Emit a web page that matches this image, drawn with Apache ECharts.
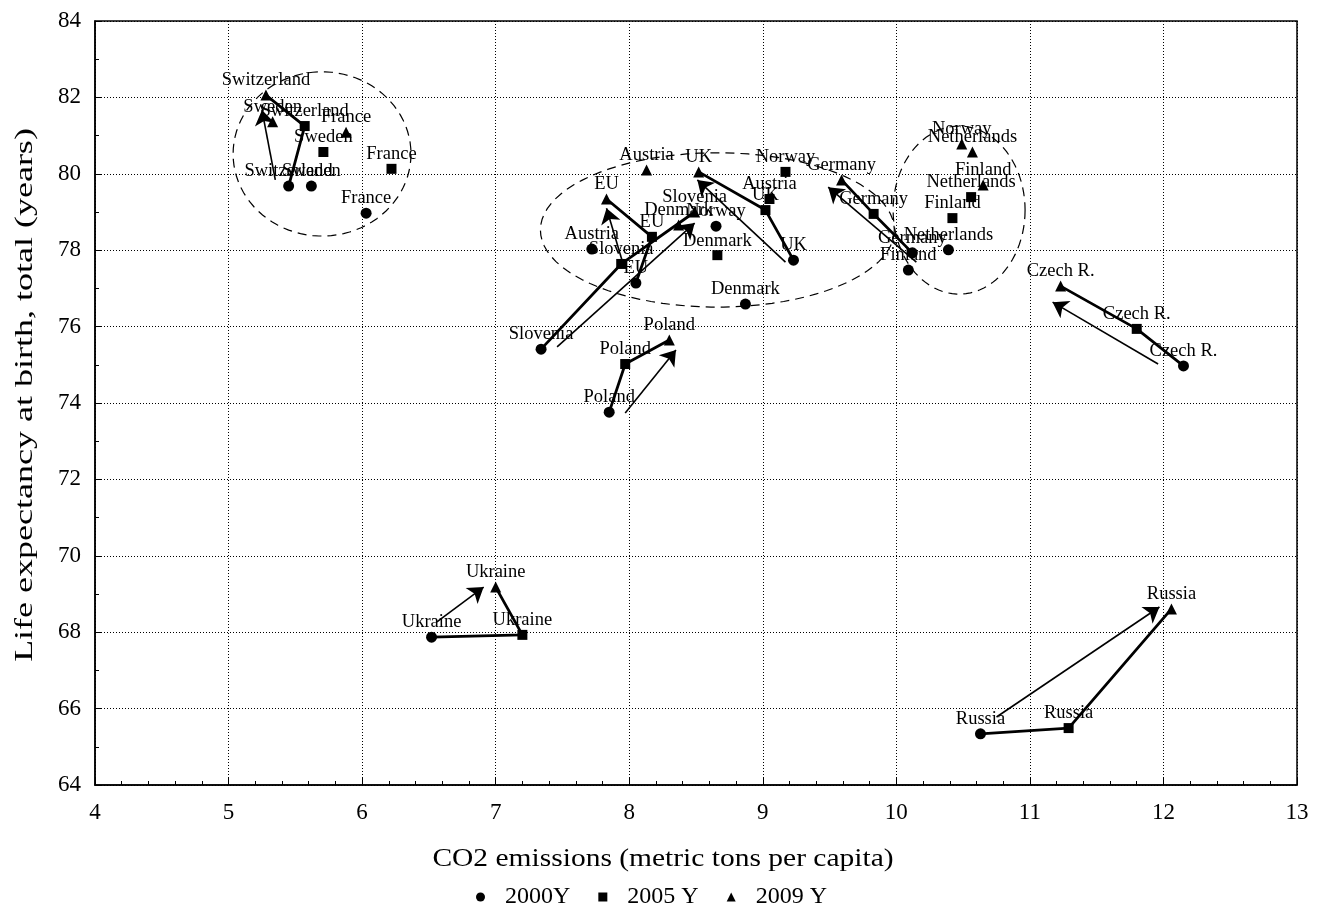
<!DOCTYPE html>
<html>
<head>
<meta charset="utf-8">
<script src="https://cdn.jsdelivr.net/npm/echarts@6/dist/echarts.min.js"></script>
<style>
html, body { margin: 0; padding: 0; background: #fff; }
#chart { width: 1326px; height: 911px; }
</style>
</head>
<body>
<div id="chart"></div>
<script>
/* data */
var countries = ['Switzerland', 'Sweden', 'France', 'Austria', 'EU', 'Slovenia', 'Norway', 'Denmark',
                 'UK', 'Poland', 'Germany', 'Finland', 'Netherlands', 'Czech R.', 'Ukraine', 'Russia'];

var co2_2000  = [5.45, 5.62, 6.03, 7.72, 8.05, 7.34, 8.65, 8.87, 9.23, 7.85, 10.12, 10.09, 10.39, 12.15, 6.52, 10.63];
var life_2000 = [79.68, 79.68, 78.97, 78.03, 77.14, 75.41, 78.63, 76.59, 77.74, 73.76, 77.93, 77.48, 78.01, 74.97, 67.87, 65.34];

var co2_2005  = [5.57, 5.71, 6.22, 9.05, 8.17, 7.94, 9.17, 8.66, 9.02, 7.97, 9.83, 10.42, 10.56, 11.80, 7.20, 11.29];
var life_2005 = [81.25, 80.57, 80.13, 79.34, 78.35, 77.64, 80.05, 77.87, 79.05, 75.02, 78.95, 78.84, 79.39, 75.94, 67.93, 65.49];

var co2_2009  = [5.28, 5.33, 5.88, 8.13, 7.83, 8.49, 10.49, 8.37, 8.52, 8.30, 9.59, 10.65, 10.57, 11.23, 7.00, 12.06];
var life_2009 = [82.06, 81.36, 81.09, 80.10, 79.34, 79.00, 80.78, 78.66, 80.05, 75.65, 79.84, 79.71, 80.57, 77.06, 69.18, 68.61];

// countries whose path 2000 -> 2005 -> 2009 is drawn
var pathCountries = ['Switzerland', 'EU', 'Slovenia', 'UK', 'Germany', 'Poland', 'Czech R.', 'Ukraine', 'Russia'];

// thin trend arrows: [x start, y start, x end, y end]
var trendArrows = [
    [5.35, 79.84, 5.25, 81.67],
    [7.95, 77.69, 7.83, 79.10],
    [7.46, 75.47, 8.49, 78.71],
    [9.17, 77.69, 8.51, 79.84],
    [10.15, 77.69, 9.49, 79.65],
    [7.97, 73.74, 8.35, 75.39],
    [11.96, 75.02, 11.17, 76.64],
    [6.56, 68.27, 6.91, 69.18],
    [10.75, 65.78, 11.97, 68.66]
];

// dashed cluster ellipses: [x centre, y centre, x radius, y radius]
var clusters = [
    [5.70, 80.52, 0.666, 2.15],
    [8.66, 78.53, 1.325, 2.02],
    [10.47, 79.05, 0.494, 2.20]
];

var xTicks = [4, 13, 1];
var yTicks = [64, 84, 2];

var xTitle = 'CO2 emissions (metric tons per capita)';
var yTitle = 'Life expectancy at birth, total (years)';

var FONT = 'Liberation Serif';

function points(xs, ys) {
    return xs.map(function (x, i) { return [x, ys[i]]; });
}

var pointLabel = {
    show: true,
    position: 'top',
    distance: 0,
    color: '#000',
    opacity: 1,
    fontFamily: FONT,
    fontSize: 18.5,
    formatter: function (p) { return countries[p.dataIndex]; }
};

var series = [];

series.push({
    type: 'custom',
    silent: true,
    z: 1,
    dimensions: ['x', 'y', 'rx', 'ry'],
    encode: { x: 0, y: 1 },
    data: clusters,
    renderItem: function (params, api) {
        var c = api.coord([api.value(0), api.value(1)]);
        var s = api.size([api.value(2), api.value(3)]);
        var pts = [];
        for (var i = 0; i <= 90; i++) {
            var t = i / 90 * Math.PI * 2;
            pts.push([c[0] + s[0] * Math.cos(t), c[1] + s[1] * Math.sin(t)]);
        }
        return {
            type: 'polyline',
            shape: { points: pts },
            style: { stroke: '#000', fill: null, lineWidth: 1.2, lineDash: [9, 6] }
        };
    }
});

pathCountries.forEach(function (name) {
    var i = countries.indexOf(name);
    series.push({
        type: 'line',
        silent: true,
        z: 2,
        symbol: 'none',
        lineStyle: { color: '#000', width: 2.8, opacity: 1 },
        data: [[co2_2000[i], life_2000[i]], [co2_2005[i], life_2005[i]], [co2_2009[i], life_2009[i]]]
    });
});

series.push({
    type: 'lines',
    coordinateSystem: 'cartesian2d',
    silent: true,
    z: 2,
    symbol: ['none', 'arrow'],
    symbolSize: 15,
    lineStyle: { color: '#000', width: 1.6, opacity: 1 },
    data: trendArrows.map(function (a) { return { coords: [[a[0], a[1]], [a[2], a[3]]] }; })
});

var markerStyle = { color: '#000', opacity: 1 };

series.push({
    name: '2000Y', type: 'scatter', symbol: 'circle', symbolSize: 11, z: 3,
    itemStyle: markerStyle, label: pointLabel,
    data: points(co2_2000, life_2000)
});
series.push({
    name: '2005 Y', type: 'scatter', symbol: 'rect', symbolSize: 10, z: 3,
    itemStyle: markerStyle, label: pointLabel,
    data: points(co2_2005, life_2005)
});
series.push({
    name: '2009 Y', type: 'scatter', symbol: 'triangle', symbolSize: 11, z: 3,
    itemStyle: markerStyle, label: pointLabel,
    data: points(co2_2009, life_2009)
});

var axisCommon = {
    type: 'value',
    axisLine: { show: true, onZero: false, lineStyle: { color: '#000', width: 1.5 } },
    axisTick: { show: true, inside: true, length: 7, lineStyle: { color: '#000' } },
    minorTick: { show: true, length: 4, lineStyle: { color: '#000' } },
    axisLabel: { color: '#000', fontFamily: FONT, fontSize: 23 },
    splitLine: { show: true, lineStyle: { color: '#000', width: 1, type: [1, 2] } }
};

// axis titles are drawn wide, as in the original export
function titleText(text, x, y, rot, stretch) {
    return {
        type: 'text', x: x, y: y, rotation: rot, scaleX: stretch, silent: true,
        style: {
            text: text, fill: '#000', fontFamily: FONT, fontSize: 25,
            align: 'center', verticalAlign: 'middle',
            textAlign: 'center', textVerticalAlign: 'middle'
        }
    };
}

var option = {
    animation: false,
    backgroundColor: '#fff',
    grid: { left: 95, right: 29, top: 21, bottom: 126, show: true, borderColor: '#000', borderWidth: 1.5 },
    legend: {
        data: ['2000Y', '2005 Y', '2009 Y'],
        left: 471,
        top: 880,
        itemWidth: 9,
        itemHeight: 9,
        itemGap: 28,
        textStyle: { color: '#000', fontFamily: FONT, fontSize: 24, padding: [0, 0, 0, 15] }
    },
    graphic: [
        titleText(xTitle, 663, 859, 0, 1.18),
        titleText(yTitle, 25, 395, Math.PI / 2, 1.44)
    ],
    xAxis: Object.assign({}, axisCommon, {
        min: xTicks[0], max: xTicks[1], interval: xTicks[2],
        minorTick: Object.assign({}, axisCommon.minorTick, { splitNumber: 5 }),
        axisLabel: Object.assign({}, axisCommon.axisLabel, { margin: 16 })
    }),
    yAxis: Object.assign({}, axisCommon, {
        min: yTicks[0], max: yTicks[1], interval: yTicks[2],
        minorTick: Object.assign({}, axisCommon.minorTick, { splitNumber: 2 }),
        axisLabel: Object.assign({}, axisCommon.axisLabel, { margin: 14 })
    }),
    series: series
};

var chart = echarts.init(document.getElementById('chart'), null, { renderer: 'canvas' });
chart.setOption(option);
</script>
</body>
</html>
